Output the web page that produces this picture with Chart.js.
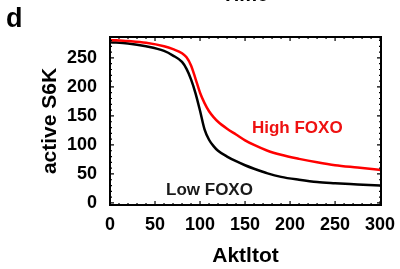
<!DOCTYPE html>
<html>
<head>
<meta charset="utf-8">
<script src="https://cdn.jsdelivr.net/npm/chart.js@4.4.1/dist/chart.umd.min.js"></script>
<style>
  html, body { margin: 0; padding: 0; background: #fff; }
  canvas { display: block; }
</style>
</head>
<body>
<canvas id="chart" width="400" height="269"></canvas>
<script>
// values
const aktTot = [0, 20, 40, 60, 70, 80, 85, 90, 95, 100, 105, 110, 115, 120, 130, 140, 150, 160, 175, 190, 210, 230, 250, 275, 300];
const lowFoxo = [277, 275, 270, 262, 254, 243, 231, 213, 189, 159, 127, 109, 98, 90, 80, 72, 65, 59, 51, 45, 40, 36, 34, 32, 30];
const highFoxo = [281, 279, 276, 270, 265, 258, 251, 237, 214, 190, 172, 158, 148, 140, 128, 118, 108, 100, 90, 83, 76, 70, 65, 61, 57];
const xTicks = [0, 50, 100, 150, 200, 250, 300];
const yTicks = [0, 50, 100, 150, 200, 250];

const FONT = "'Liberation Sans', Arial, sans-serif";

const toPoints = ys => ys.map((y, i) => ({ x: aktTot[i], y: y }));

// Mathematica style frame with inward ticks + labels
const framePlugin = {
  id: 'frame',
  afterDatasetsDraw(chart) {
    const { ctx, chartArea: a, scales: { x, y } } = chart;
    ctx.save();
    ctx.strokeStyle = '#000';
    ctx.lineWidth = 1.2;
    ctx.beginPath();
    for (let v = 0; v <= 300; v += 10) {
      const px = x.getPixelForValue(v);
      const len = v % 50 === 0 ? 4 : 2;
      ctx.moveTo(px, a.bottom); ctx.lineTo(px, a.bottom - len);
      ctx.moveTo(px, a.top); ctx.lineTo(px, a.top + len);
    }
    for (let v = 0; v <= 280; v += 10) {
      const py = y.getPixelForValue(v);
      const len = v % 50 === 0 ? 4 : 2;
      ctx.moveTo(a.left, py); ctx.lineTo(a.left + len, py);
      ctx.moveTo(a.right, py); ctx.lineTo(a.right - len, py);
    }
    ctx.stroke();
    ctx.lineWidth = 2;
    ctx.strokeRect(a.left, a.top, a.right - a.left, a.bottom - a.top);

    ctx.font = 'bold 17px ' + FONT;
    ctx.textAlign = 'center';
    ctx.textBaseline = 'middle';
    ctx.fillStyle = '#1a1a1a';
    ctx.fillText('Low FOXO', x.getPixelForValue(110.5), y.getPixelForValue(22.5));
    ctx.fillStyle = '#ee1111';
    ctx.fillText('High FOXO', x.getPixelForValue(208), y.getPixelForValue(128));

    // panel letter and the clipped title of the panel above
    ctx.fillStyle = '#000';
    ctx.textAlign = 'left';
    ctx.textBaseline = 'alphabetic';
    ctx.font = 'bold 27px ' + FONT;
    ctx.fillText('d', 6, 27);
    ctx.textAlign = 'center';
    ctx.font = 'bold 20px ' + FONT;
    ctx.fillText('Time', 245, 1);
    ctx.restore();
  }
};

new Chart(document.getElementById('chart'), {
  type: 'line',
  data: {
    datasets: [
      {
        label: 'High FOXO',
        data: toPoints(highFoxo),
        borderColor: '#ff0000',
        borderWidth: 2.5,
        pointRadius: 0,
        cubicInterpolationMode: 'monotone'
      },
      {
        label: 'Low FOXO',
        data: toPoints(lowFoxo),
        borderColor: '#000000',
        borderWidth: 2.5,
        pointRadius: 0,
        cubicInterpolationMode: 'monotone'
      }
    ]
  },
  options: {
    responsive: false,
    animation: false,
    layout: { padding: { top: 37, right: 19, bottom: 0, left: 0 } },
    plugins: { legend: { display: false }, tooltip: { enabled: false } },
    scales: {
      x: {
        type: 'linear',
        min: 0,
        max: 301,
        grid: { display: false },
        border: { display: false },
        afterBuildTicks: s => { s.ticks = xTicks.map(v => ({ value: v })); },
        afterFit: s => { s.height = 64; },
        ticks: { color: '#000', padding: 1, maxRotation: 0, font: { family: FONT, size: 18, weight: 'bold' } },
        title: { display: true, text: 'Aktltot', color: '#000', padding: { top: 0, bottom: 0 }, font: { family: FONT, size: 21, weight: 'bold' } }
      },
      y: {
        type: 'linear',
        min: -3.5,
        max: 286,
        grid: { display: false },
        border: { display: false },
        afterBuildTicks: s => { s.ticks = yTicks.map(v => ({ value: v })); },
        afterFit: s => { s.width = 110; },
        ticks: { color: '#000', padding: 5, font: { family: FONT, size: 18, weight: 'bold' } },
        title: { display: true, text: 'active S6K', color: '#000', padding: { top: 38, bottom: 0 }, font: { family: FONT, size: 21, weight: 'bold' } }
      }
    }
  },
  plugins: [framePlugin]
});
</script>
</body>
</html>
